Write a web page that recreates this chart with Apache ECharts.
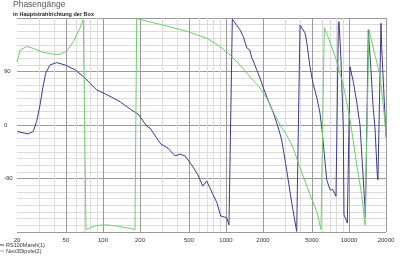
<!DOCTYPE html>
<html>
<head>
<meta charset="utf-8">
<script src="https://cdn.jsdelivr.net/npm/echarts@6/dist/echarts.min.js"></script>
<style>
  html, body { margin: 0; padding: 0; background: #fff; }
  #chart { width: 400px; height: 258px; }
</style>
</head>
<body>
<div id="chart"></div>
<script>
// Frequenz (Hz) / Phase (Grad)
var rsFreq = [20, 24.6, 27.1, 28.9, 30.8, 32.4, 34.2, 37.1, 42, 49.1, 59.2, 71.4, 88.9, 110, 138, 166, 196, 227, 241, 295,
  338, 385, 423, 464, 526, 592, 647, 697, 784, 845, 906, 1014, 1058, 1078, 1126, 1222, 1300, 1383, 1475, 1567,
  1619, 1658, 1778, 1890, 2000, 2196, 2412, 2649, 2838, 3117, 3424, 3758, 4000, 4050, 4390, 4532, 4820, 5100, 5466, 5813,
  6036, 6591, 7010, 7413, 7846, 8200, 8298, 8612, 8994, 9110, 9692, 10196, 10840, 11560, 12294, 13500, 13600, 14360,
  15100, 15670, 16276, 16990, 17200, 18210, 18450, 20000];
var rsPhase = [-11, -15, -11, 6, 34, 62, 87, 101, 105, 101, 93, 79, 59, 50, 39, 27, 17, -2, -5, -32,
  -39, -52, -49, -52, -67, -84, -103, -94, -117, -131, -153, -156, -168, -170, 178, 168, 160, 149, 130, 126,
  113, 109, 93, 79, 64, 42, 22, -3, -25, -76, -131, -179, 168, 171, 155, 140, 98, 70, 47, 20,
  -8, -92, -109, -109, -120, 170, 174, 109, -5, -151, -165, 98, 73, 39, 0, -140, -155, 160,
  92, 34, -5, -84, -92, 171, 130, -20];

var neoFreq = [20, 21.2, 24, 27.1, 32.7, 39.4, 44.7, 50.7, 57.4, 65, 69.2, 72.8, 78.4, 88.9, 107, 129, 166, 182, 188, 196,
  309, 494, 697, 894, 1078, 1300, 1567, 1866, 2144, 2426, 2750, 3117, 3527, 4000, 4820, 5466, 5920, 6300, 7010, 7946,
  8994, 10196, 11560, 12680, 13500, 14550, 15760, 17870, 19630, 20000];
var neoPhase = [106, 126, 132, 129, 122, 119, 119, 124, 140, 163, 177, -176, -173, -169, -168, -170, -174, -176, 179, 178,
  168, 157, 146, 132, 118, 101, 81, 64, 45, 22, 0, -17, -39, -72, -117, -145, -176, 164, 140, 107,
  67, 10, -67, -117, -168, 161, 129, 84, 5, -22];

var xTickLabels = [20, 50, 100, 200, 500, 1000, 2000, 5000, 10000, 20000];
var xGridMinor = [30, 40, 60, 70, 80, 90, 300, 400, 600, 700, 800, 900, 3000, 4000, 6000, 7000, 8000, 9000];
var yTickLabels = [90, 0, -90];
var seriesNames = ['RS100Marsh(1)', 'Neo3Dipole(2)'];

var myChart = echarts.init(document.getElementById('chart'));
var lg = Math.log10;
var font = 'Liberation Sans, Arial, sans-serif';

function toPoints(freq, phase) {
  return freq.map(function (f, i) { return [lg(f), phase[i]]; });
}

var gridLines = xGridMinor.map(function (v) {
  return { xAxis: lg(v), lineStyle: { color: '#dcdcdc', width: 1, type: 'solid' } };
}).concat(xTickLabels.map(function (v) {
  return { xAxis: lg(v), lineStyle: { color: '#9a9a9a', width: 1, type: 'solid' } };
}));

var option = {
  animation: false,
  title: {
    text: 'Phasengänge',
    subtext: 'in Hauptstrahlrichtung der Box',
    left: 13,
    top: 0,
    padding: 0,
    itemGap: 2,
    textStyle: { fontSize: 8.5, fontWeight: 'normal', color: '#555', fontFamily: font },
    subtextStyle: { fontSize: 5.5, fontWeight: 'bold', color: '#222', fontFamily: font }
  },
  legend: {
    data: seriesNames,
    orient: 'vertical',
    left: 0,
    top: 242,
    padding: 0,
    itemGap: 0,
    itemWidth: 4,
    itemHeight: 1,
    icon: 'rect',
    textStyle: { fontSize: 5.5, lineHeight: 5, color: '#333', fontFamily: font, padding: [0, 0, 0, -3] }
  },
  grid: { left: 17, right: 14, top: 18, bottom: 26 },
  xAxis: {
    type: 'value',
    min: lg(20),
    max: lg(20000),
    axisLine: { show: false },
    axisTick: { show: false },
    splitLine: { show: false },
    axisLabel: {
      customValues: xTickLabels.map(lg),
      formatter: function (v) { return String(Math.round(Math.pow(10, v))); },
      fontSize: 6,
      color: '#333',
      fontFamily: font,
      margin: 5
    }
  },
  yAxis: {
    type: 'value',
    min: -180,
    max: 180,
    interval: 11.25,
    axisLine: { show: false },
    axisTick: { show: false },
    splitLine: {
      lineStyle: {
        width: 1,
        color: ['#9a9a9a', '#dcdcdc', '#dcdcdc', '#dcdcdc', '#dcdcdc', '#dcdcdc', '#dcdcdc', '#dcdcdc']
      }
    },
    axisLabel: {
      formatter: function (v) { return yTickLabels.indexOf(v) >= 0 ? String(v) : ''; },
      align: 'left',
      margin: 13,
      fontSize: 6,
      color: '#333',
      fontFamily: font
    }
  },
  series: [
    {
      name: 'grid',
      type: 'line',
      data: [],
      silent: true,
      markLine: {
        z: 1,
        silent: true,
        symbol: ['none', 'none'],
        label: { show: false },
        data: gridLines
      }
    },
    {
      name: seriesNames[0],
      type: 'line',
      data: toPoints(rsFreq, rsPhase),
      showSymbol: false,
      lineStyle: { color: '#3c3c8a', width: 1 },
      itemStyle: { color: '#3c3c8a' }
    },
    {
      name: seriesNames[1],
      type: 'line',
      data: toPoints(neoFreq, neoPhase),
      showSymbol: false,
      lineStyle: { color: '#6ccf6c', width: 1 },
      itemStyle: { color: '#6ccf6c' }
    }
  ]
};

myChart.setOption(option);
window.addEventListener('resize', function () {
  myChart.resize();
});
</script>
</body>
</html>
